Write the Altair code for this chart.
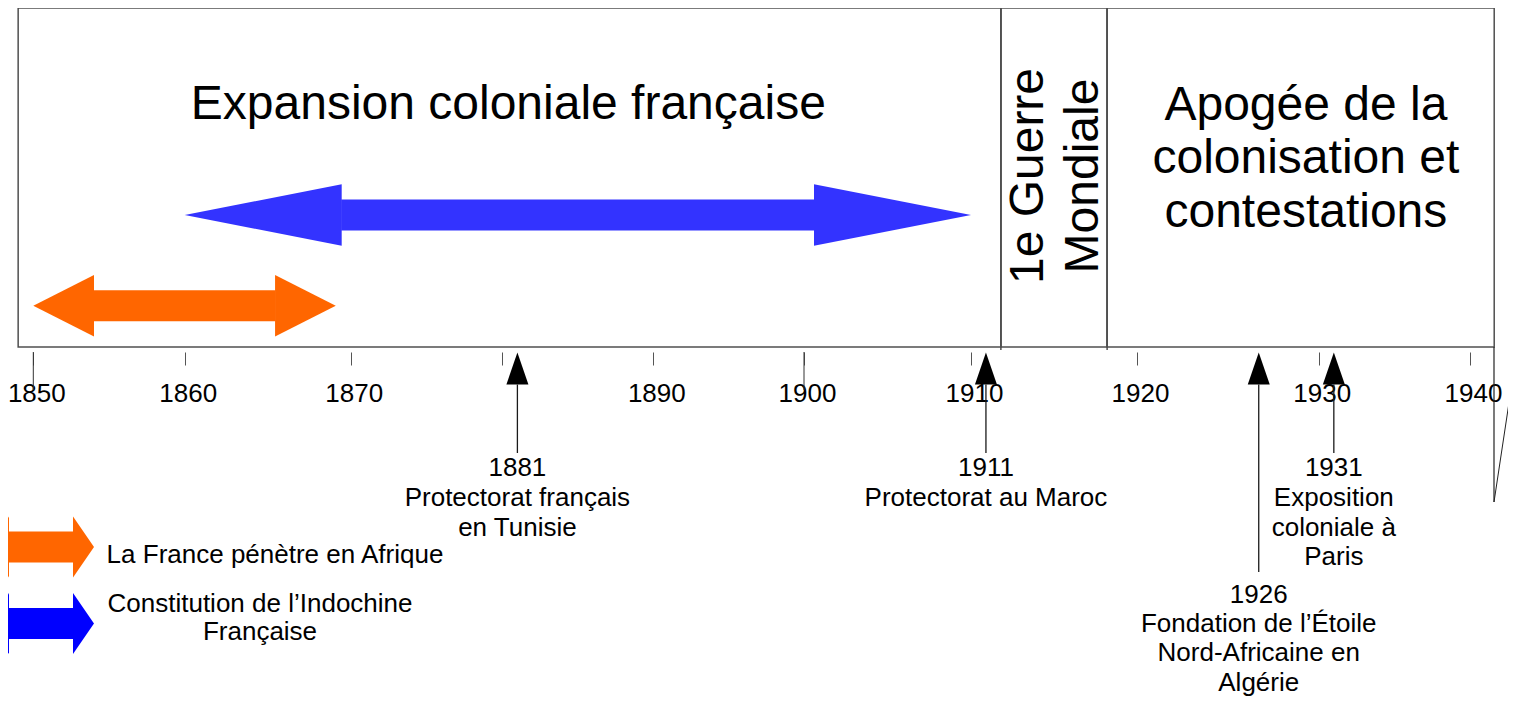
import altair as alt
import numpy as np
import pandas as pd

# ---------------- data ----------------
tick_years = [1850, 1860, 1870, 1880, 1890, 1900, 1910, 1920, 1930, 1940]
unlabelled_ticks = [1880]
long_ticks = [1850, 1900]

period_labels = [
    "Expansion coloniale française",
    "1e Guerre\nMondiale",
    "Apogée de la\ncolonisation et\ncontestations",
]
period_start = [1849.0, 1911.8, 1918.2]
period_end = [1911.8, 1918.2, 1941.6]

span_labels = ["La France pénètre en Afrique", "Constitution de l’Indochine\nFrançaise"]
span_start = [1850.0, 1860.0]
span_end = [1869.1, 1910.0]

event_years = ["1881", "1911", "1926", "1931"]
event_marks = [1881.0, 1910.9, 1926.7, 1931.0]
event_texts = [
    "Protectorat français\nen Tunisie",
    "Protectorat au Maroc",
    "Fondation de l’Étoile\nNord-Africaine en\nAlgérie",
    "Exposition\ncoloniale à\nParis",
]

# ---------------- layout / style ----------------
FONT = "Liberation Sans"
W, H_TOP, H_BOTTOM = 1500, 344, 345
TICK_PX = [25.3, 176.7, 342.7, 494.3, 645.3, 796.0, 963.0, 1129.0, 1310.7, 1462.0]
FRAME_COLOR = "#505050"
span_fill = ["#FF6600", "#3333FF"]
legend_fill = ["#FF6600", "#0000FF"]
SPAN_CY = [297.8, 207.0]
SPAN_HEAD = [60.7, 157.0]
HEAD_HALF, SHAFT_HALF = 30.7, 15.5
LEGEND_CY = [539.0, 615.5]
LEGEND_X = (-20.0, 86.0)
LEGEND_HEAD = 21.0
LEGEND_HALF = 30.5
LEGEND_TEXT_X = [267, 252]
LEGEND_TEXT_Y = [555.3, 603.7]
LOW_EVENTS = {"1926"}


def _interp(v, xs, ys):
    xs = np.asarray(xs, float)
    ys = np.asarray(ys, float)
    if v < xs[0]:
        return float(ys[0] + (v - xs[0]) * (ys[1] - ys[0]) / (xs[1] - xs[0]))
    if v > xs[-1]:
        return float(ys[-1] + (v - xs[-1]) * (ys[-1] - ys[-2]) / (xs[-1] - xs[-2]))
    return float(np.interp(v, xs, ys))


def year_to_px(y):
    return _interp(y, tick_years, TICK_PX)


def px_to_year(p):
    return _interp(p, TICK_PX, tick_years)


shaft_rows, head_rows = [], []


def add_arrow(x0_year, x1_year, head_px, cy, hh, sh, fill):
    p0, p1 = year_to_px(x0_year), year_to_px(x1_year)
    shaft_rows.append(dict(
        x0=px_to_year(p0 + head_px - 0.5), x1=px_to_year(p1 - head_px + 0.5),
        top=cy - sh, bot=cy + sh, fill=fill,
    ))
    head_rows.append(dict(x=x0_year, cy=cy, fill=fill,
                          path=f"M0,0L{head_px:.2f},{-hh:.2f}L{head_px:.2f},{hh:.2f}Z"))
    head_rows.append(dict(x=x1_year, cy=cy, fill=fill,
                          path=f"M0,0L{-head_px:.2f},{-hh:.2f}L{-head_px:.2f},{hh:.2f}Z"))


for i in range(len(span_labels)):
    add_arrow(span_start[i], span_end[i], SPAN_HEAD[i], SPAN_CY[i],
              HEAD_HALF, SHAFT_HALF, span_fill[i])
for i in range(len(span_labels)):
    add_arrow(px_to_year(LEGEND_X[0]), px_to_year(LEGEND_X[1]), LEGEND_HEAD,
              LEGEND_CY[i], LEGEND_HALF, SHAFT_HALF, legend_fill[i])

shafts_df = pd.DataFrame(shaft_rows)
heads_df = pd.DataFrame(head_rows)

periods_df = pd.DataFrame({
    "label": period_labels,
    "start": period_start,
    "end": period_end,
})
periods_df["mid"] = (periods_df["start"] + periods_df["end"]) / 2

events_df = pd.DataFrame({
    "year": event_years,
    "pos": event_marks,
    "text": [f"{y}\n{t}" for y, t in zip(event_years, event_texts)],
})
events_df["stem_top"] = 376.5
events_df["stem_bot"] = [564.0 if y in LOW_EVENTS else 445.0 for y in event_years]
events_df["text_y"] = [595.0 if y in LOW_EVENTS else 468.0 for y in event_years]
events_df["lh"] = [29.2 if y in LOW_EVENTS else 29.8 for y in event_years]

long_ticks_df = pd.DataFrame({"tyear": long_ticks})
long_ticks_df["t0"] = 344.0
long_ticks_df["t1"] = 382.0

# ---------------- scales & axis ----------------
x_scale = alt.Scale(domain=tick_years, range=TICK_PX, zero=False, nice=False)
y_scale = alt.Scale(domain=[0, H_TOP], range=[0, H_TOP], zero=False, nice=False)
label_expr = " || ".join(f"datum.value == {v}" for v in unlabelled_ticks)
x_axis = alt.Axis(
    values=tick_years, format="d",
    labelExpr=f"({label_expr}) ? '' : datum.label",
    domain=False, grid=False, tickSize=13, tickColor="#555555", tickWidth=1,
    labelFont=FONT, labelFontSize=26, labelColor="#000000", labelPadding=15,
    labelOffset=3, labelOverlap=False, labelFlush=False, title=None,
)


def X(f):
    return alt.X(f, type="quantitative", scale=x_scale, axis=x_axis)


def Y(f):
    return alt.Y(f, type="quantitative", scale=y_scale, axis=None)


one = pd.DataFrame({"a": [0]})

frame = alt.Chart(periods_df).mark_rect(
    stroke=FRAME_COLOR, strokeWidth=1.5, fillOpacity=0
).encode(x=X("start"), x2="end", y=alt.value(0), y2=alt.value(339))

dividers = alt.Chart(periods_df.iloc[1:]).mark_rule(
    color=FRAME_COLOR, strokeWidth=1.5
).encode(x=X("start"), y=alt.value(-4), y2=alt.value(342))

long_tick_marks = alt.Chart(long_ticks_df).mark_rule(
    color="#333333", strokeWidth=1
).encode(x=X("tyear"), y=Y("t0"), y2="t1")

lab_expansion = alt.Chart(periods_df.iloc[[0]]).mark_text(
    font=FONT, fontSize=48, align="center", baseline="alphabetic", color="#000000"
).encode(x=X("mid"), y=alt.value(111), text="label")

lab_war = alt.Chart(periods_df.iloc[[1]]).mark_text(
    font=FONT, fontSize=48, align="center", baseline="alphabetic", color="#000000",
    angle=270, lineBreak="\n", lineHeight=55, dy=-11,
).encode(x=X("mid"), y=alt.value(168), text="label")

lab_apogee = alt.Chart(periods_df.iloc[[2]]).mark_text(
    font=FONT, fontSize=48, align="center", baseline="alphabetic", color="#000000",
    lineBreak="\n", lineHeight=53.3, dx=-11,
).encode(x=X("mid"), y=alt.value(112), text="label")

shafts = alt.Chart(shafts_df).mark_rect(strokeWidth=0, opacity=1).encode(
    x=X("x0"), x2="x1", y=Y("top"), y2="bot",
    fill=alt.Fill("fill:N", scale=None),
)

arrow_heads = alt.Chart(heads_df).mark_point(
    size=4, filled=True, opacity=1, strokeWidth=0
).encode(
    x=X("x"), y=Y("cy"),
    shape=alt.Shape("path:N", scale=None),
    fill=alt.Fill("fill:N", scale=None),
)

heads = alt.Chart(events_df).mark_point(
    shape="M0,-1L0.6875,1L-0.6875,1Z", size=1024, filled=True, color="#000000",
    opacity=1, strokeWidth=0,
).encode(x=X("pos"), y=alt.value(360.5))

stems = alt.Chart(events_df).mark_rule(color="#1a1a1a", strokeWidth=1.3).encode(
    x=X("pos"), y=Y("stem_top"), y2="stem_bot"
)

event_text_layers = []
for lh_val in sorted(set(events_df["lh"])):
    event_text_layers.append(
        alt.Chart(events_df[events_df["lh"] == lh_val]).mark_text(
            font=FONT, fontSize=26, align="center", baseline="alphabetic",
            color="#000000", lineBreak="\n", lineHeight=float(lh_val),
        ).encode(x=X("pos"), y=Y("text_y"), text="text")
    )

legend_texts = []
for i, lab in enumerate(span_labels):
    legend_texts.append(
        alt.Chart(pd.DataFrame({"t": [lab]})).mark_text(
            font=FONT, fontSize=26, align="center", baseline="alphabetic",
            color="#000000", lineBreak="\n", lineHeight=28.5,
        ).encode(x=alt.value(LEGEND_TEXT_X[i]), y=alt.value(LEGEND_TEXT_Y[i]), text="t")
    )

edge = alt.Chart(one).mark_rule(color="#222222", strokeWidth=1.2).encode(
    x=alt.value(1486), y=alt.value(339), y2=alt.value(494)
)
diag = alt.Chart(one).mark_rule(color="#222222", strokeWidth=1).encode(
    x=alt.value(1507), y=alt.value(355), x2=alt.value(1486), y2=alt.value(494)
)

chart = alt.layer(
    frame, dividers, shafts, arrow_heads, lab_expansion, lab_war,
    lab_apogee, heads, stems, *event_text_layers, *legend_texts, edge, diag,
    long_tick_marks,
).properties(
    width=W, height=H_TOP,
    padding={"left": 0, "top": 0, "right": 0, "bottom": H_BOTTOM},
    autosize=alt.AutoSizeParams(type="none"),
    background="#ffffff",
).configure(
    font=FONT
).configure_view(
    stroke="transparent", strokeWidth=0
).configure_axis(domain=False)

chart.save("out.html", embed_options={"renderer": "svg", "actions": False})
